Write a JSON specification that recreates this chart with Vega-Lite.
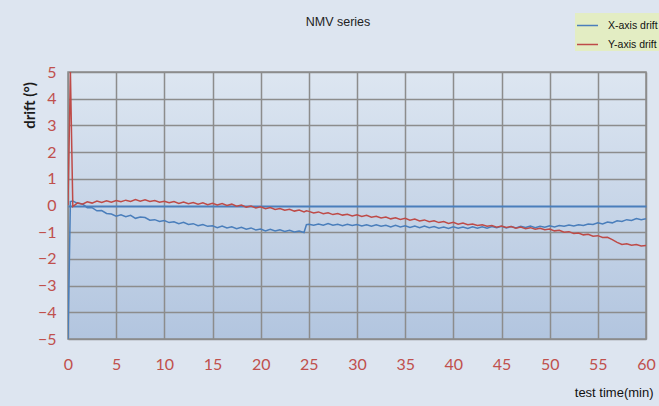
{
  "$schema": "https://vega.github.io/schema/vega-lite/v6.json",
  "width": 578,
  "height": 267,
  "autosize": {"type": "none"},
  "padding": {"left": 68, "top": 72, "right": 13, "bottom": 67},
  "background": "#dde5f0",
  "title": {
    "text": "NMV series",
    "font": "Liberation Sans",
    "fontSize": 12.5,
    "fontWeight": "normal",
    "color": "#222222",
    "anchor": "middle",
    "frame": "group",
    "baseline": "alphabetic",
    "offset": -25,
    "dx": -19
  },
  "config": {
    "view": {
      "stroke": "#8c8c8c",
      "strokeWidth": 1.5,
      "fill": {
        "gradient": "linear",
        "x1": 0, "y1": 0, "x2": 0, "y2": 1,
        "stops": [
          {"offset": 0, "color": "#dde6f1"},
          {"offset": 1, "color": "#b2c5df"}
        ]
      }
    },
    "axis": {
      "grid": true,
      "gridColor": "#8c8c8c",
      "gridWidth": 1.5,
      "gridOpacity": 1,
      "domain": false,
      "ticks": false,
      "labelFont": "Lato",
      "labelFontSize": 16,
      "labelColor": "#c0504d",
      "labelOverlap": false,
      "labelFlush": false
    }
  },
  "data": {
    "values": [
      {"t": 0, "xd": -5, "yd": 0.02},
      {"t": 0.25, "xd": 0.15, "yd": 5},
      {"t": 0.5, "xd": 0.17, "yd": -0.04},
      {"t": 1, "xd": 0.08, "yd": 0.10},
      {"t": 1.5, "xd": 0.06, "yd": 0.05},
      {"t": 2, "xd": -0.08, "yd": 0.14},
      {"t": 2.5, "xd": -0.08, "yd": 0.09},
      {"t": 3, "xd": -0.20, "yd": 0.17},
      {"t": 3.5, "xd": -0.19, "yd": 0.11},
      {"t": 4, "xd": -0.30, "yd": 0.18},
      {"t": 4.5, "xd": -0.32, "yd": 0.12},
      {"t": 5, "xd": -0.40, "yd": 0.19},
      {"t": 5.5, "xd": -0.35, "yd": 0.14},
      {"t": 6, "xd": -0.42, "yd": 0.20},
      {"t": 6.5, "xd": -0.37, "yd": 0.15},
      {"t": 7, "xd": -0.48, "yd": 0.22},
      {"t": 7.5, "xd": -0.43, "yd": 0.16},
      {"t": 8, "xd": -0.45, "yd": 0.21},
      {"t": 8.5, "xd": -0.55, "yd": 0.15},
      {"t": 9, "xd": -0.53, "yd": 0.19},
      {"t": 9.5, "xd": -0.60, "yd": 0.12},
      {"t": 10, "xd": -0.56, "yd": 0.16},
      {"t": 10.5, "xd": -0.64, "yd": 0.10},
      {"t": 11, "xd": -0.61, "yd": 0.15},
      {"t": 11.5, "xd": -0.68, "yd": 0.08},
      {"t": 12, "xd": -0.63, "yd": 0.13},
      {"t": 12.5, "xd": -0.71, "yd": 0.07},
      {"t": 13, "xd": -0.68, "yd": 0.11},
      {"t": 13.5, "xd": -0.76, "yd": 0.05},
      {"t": 14, "xd": -0.71, "yd": 0.10},
      {"t": 14.5, "xd": -0.78, "yd": 0.03},
      {"t": 15, "xd": -0.76, "yd": 0.08},
      {"t": 15.5, "xd": -0.83, "yd": 0.02},
      {"t": 16, "xd": -0.77, "yd": 0.07},
      {"t": 16.5, "xd": -0.84, "yd": 0.00},
      {"t": 17, "xd": -0.80, "yd": 0.05},
      {"t": 17.5, "xd": -0.87, "yd": -0.03},
      {"t": 18, "xd": -0.82, "yd": 0.02},
      {"t": 18.5, "xd": -0.89, "yd": -0.06},
      {"t": 19, "xd": -0.84, "yd": -0.02},
      {"t": 19.5, "xd": -0.92, "yd": -0.09},
      {"t": 20, "xd": -0.88, "yd": -0.05},
      {"t": 20.5, "xd": -0.95, "yd": -0.12},
      {"t": 21, "xd": -0.89, "yd": -0.08},
      {"t": 21.5, "xd": -0.95, "yd": -0.15},
      {"t": 22, "xd": -0.91, "yd": -0.11},
      {"t": 22.5, "xd": -0.97, "yd": -0.18},
      {"t": 23, "xd": -0.93, "yd": -0.14},
      {"t": 23.5, "xd": -0.99, "yd": -0.21},
      {"t": 24, "xd": -0.96, "yd": -0.17},
      {"t": 24.5, "xd": -1.01, "yd": -0.24},
      {"t": 24.75, "xd": -0.72, "yd": -0.20},
      {"t": 25, "xd": -0.70, "yd": -0.22},
      {"t": 25.5, "xd": -0.74, "yd": -0.28},
      {"t": 26, "xd": -0.69, "yd": -0.24},
      {"t": 26.5, "xd": -0.74, "yd": -0.31},
      {"t": 27, "xd": -0.68, "yd": -0.27},
      {"t": 27.5, "xd": -0.74, "yd": -0.34},
      {"t": 28, "xd": -0.70, "yd": -0.30},
      {"t": 28.5, "xd": -0.76, "yd": -0.36},
      {"t": 29, "xd": -0.70, "yd": -0.33},
      {"t": 29.5, "xd": -0.75, "yd": -0.39},
      {"t": 30, "xd": -0.71, "yd": -0.35},
      {"t": 30.5, "xd": -0.77, "yd": -0.41},
      {"t": 31, "xd": -0.72, "yd": -0.37},
      {"t": 31.5, "xd": -0.78, "yd": -0.44},
      {"t": 32, "xd": -0.72, "yd": -0.40},
      {"t": 32.5, "xd": -0.78, "yd": -0.47},
      {"t": 33, "xd": -0.74, "yd": -0.43},
      {"t": 33.5, "xd": -0.80, "yd": -0.50},
      {"t": 34, "xd": -0.74, "yd": -0.46},
      {"t": 34.5, "xd": -0.80, "yd": -0.52},
      {"t": 35, "xd": -0.76, "yd": -0.48},
      {"t": 35.5, "xd": -0.82, "yd": -0.55},
      {"t": 36, "xd": -0.77, "yd": -0.51},
      {"t": 36.5, "xd": -0.83, "yd": -0.58},
      {"t": 37, "xd": -0.77, "yd": -0.54},
      {"t": 37.5, "xd": -0.83, "yd": -0.61},
      {"t": 38, "xd": -0.79, "yd": -0.57},
      {"t": 38.5, "xd": -0.85, "yd": -0.64},
      {"t": 39, "xd": -0.81, "yd": -0.60},
      {"t": 39.5, "xd": -0.86, "yd": -0.67},
      {"t": 40, "xd": -0.80, "yd": -0.63},
      {"t": 40.5, "xd": -0.85, "yd": -0.70},
      {"t": 41, "xd": -0.81, "yd": -0.66},
      {"t": 41.5, "xd": -0.86, "yd": -0.72},
      {"t": 42, "xd": -0.80, "yd": -0.69},
      {"t": 42.5, "xd": -0.85, "yd": -0.75},
      {"t": 43, "xd": -0.80, "yd": -0.72},
      {"t": 43.5, "xd": -0.85, "yd": -0.78},
      {"t": 44, "xd": -0.79, "yd": -0.75},
      {"t": 44.5, "xd": -0.83, "yd": -0.81},
      {"t": 45, "xd": -0.78, "yd": -0.77},
      {"t": 45.5, "xd": -0.84, "yd": -0.82},
      {"t": 46, "xd": -0.79, "yd": -0.79},
      {"t": 46.5, "xd": -0.84, "yd": -0.85},
      {"t": 47, "xd": -0.78, "yd": -0.81},
      {"t": 47.5, "xd": -0.82, "yd": -0.87},
      {"t": 48, "xd": -0.77, "yd": -0.83},
      {"t": 48.5, "xd": -0.83, "yd": -0.89},
      {"t": 49, "xd": -0.78, "yd": -0.85},
      {"t": 49.5, "xd": -0.81, "yd": -0.91},
      {"t": 50, "xd": -0.76, "yd": -0.88},
      {"t": 50.5, "xd": -0.80, "yd": -0.95},
      {"t": 51, "xd": -0.75, "yd": -0.93},
      {"t": 51.5, "xd": -0.78, "yd": -1.00},
      {"t": 52, "xd": -0.73, "yd": -0.98},
      {"t": 52.5, "xd": -0.77, "yd": -1.05},
      {"t": 53, "xd": -0.72, "yd": -1.03},
      {"t": 53.5, "xd": -0.75, "yd": -1.10},
      {"t": 54, "xd": -0.69, "yd": -1.08},
      {"t": 54.5, "xd": -0.71, "yd": -1.15},
      {"t": 55, "xd": -0.65, "yd": -1.13},
      {"t": 55.5, "xd": -0.69, "yd": -1.20},
      {"t": 56, "xd": -0.62, "yd": -1.19},
      {"t": 56.5, "xd": -0.65, "yd": -1.28},
      {"t": 57, "xd": -0.57, "yd": -1.38},
      {"t": 57.5, "xd": -0.60, "yd": -1.46},
      {"t": 58, "xd": -0.53, "yd": -1.43},
      {"t": 58.5, "xd": -0.56, "yd": -1.49},
      {"t": 59, "xd": -0.49, "yd": -1.46},
      {"t": 59.5, "xd": -0.53, "yd": -1.52},
      {"t": 60, "xd": -0.50, "yd": -1.50}
    ]
  },
  "transform": [{"fold": ["xd", "yd"], "as": ["series", "v"]}],
  "mark": {"type": "line", "strokeWidth": 1.5, "clip": true},
  "encoding": {
    "x": {
      "field": "t",
      "type": "quantitative",
      "scale": {"domain": [0, 60], "nice": false},
      "axis": {
        "values": [0, 5, 10, 15, 20, 25, 30, 35, 40, 45, 50, 55, 60],
        "labelPadding": 17,
        "labelAngle": 0,
        "labelOverlap": false,
        "labelFlush": false,
        "title": "test time(min)",
        "titleFont": "Liberation Sans",
        "titleFontSize": 13,
        "titleFontWeight": "normal",
        "titleColor": "#111111",
        "titleAlign": "right",
        "titleBaseline": "alphabetic",
        "titleAnchor": "end",
        "titleX": 585,
        "titleY": 57
      }
    },
    "y": {
      "field": "v",
      "type": "quantitative",
      "scale": {"domain": [-5, 5], "nice": false},
      "axis": {
        "values": [-5, -4, -3, -2, -1, 0, 1, 2, 3, 4, 5],
        "labelPadding": 12,
        "labelOverlap": false,
        "labelFlush": false,
        "labelBaseline": "middle",
        "gridColor": {"condition": {"test": "datum.value === 0", "value": "#4a7ebb"}, "value": "#8c8c8c"},
        "gridWidth": {"condition": {"test": "datum.value === 0", "value": 2}, "value": 1.5},
        "title": "drift (°)",
        "titleFont": "Lato",
        "titleFontSize": 15,
        "titleFontWeight": "bold",
        "titleColor": "#1a1a1a",
        "titleAngle": -90,
        "titleAlign": "center",
        "titleBaseline": "middle",
        "titleX": -39,
        "titleY": 33
      }
    },
    "color": {
      "field": "series",
      "type": "nominal",
      "scale": {"domain": ["xd", "yd"], "range": ["#4a7ebb", "#be4b48"]},
      "legend": {
        "title": null,
        "orient": "none",
        "legendX": 507,
        "legendY": -59,
        "padding": 1,
        "rowPadding": 2,
        "fillColor": "#e3edc3",
        "symbolType": "stroke",
        "symbolSize": 441,
        "symbolStrokeWidth": 1.5,
        "labelFont": "Liberation Sans",
        "labelFontSize": 10.5,
        "labelColor": "#111111",
        "labelOffset": 9,
        "labelExpr": "datum.label == 'xd' ? 'X-axis drift' : 'Y-axis drift'"
      }
    }
  }
}
